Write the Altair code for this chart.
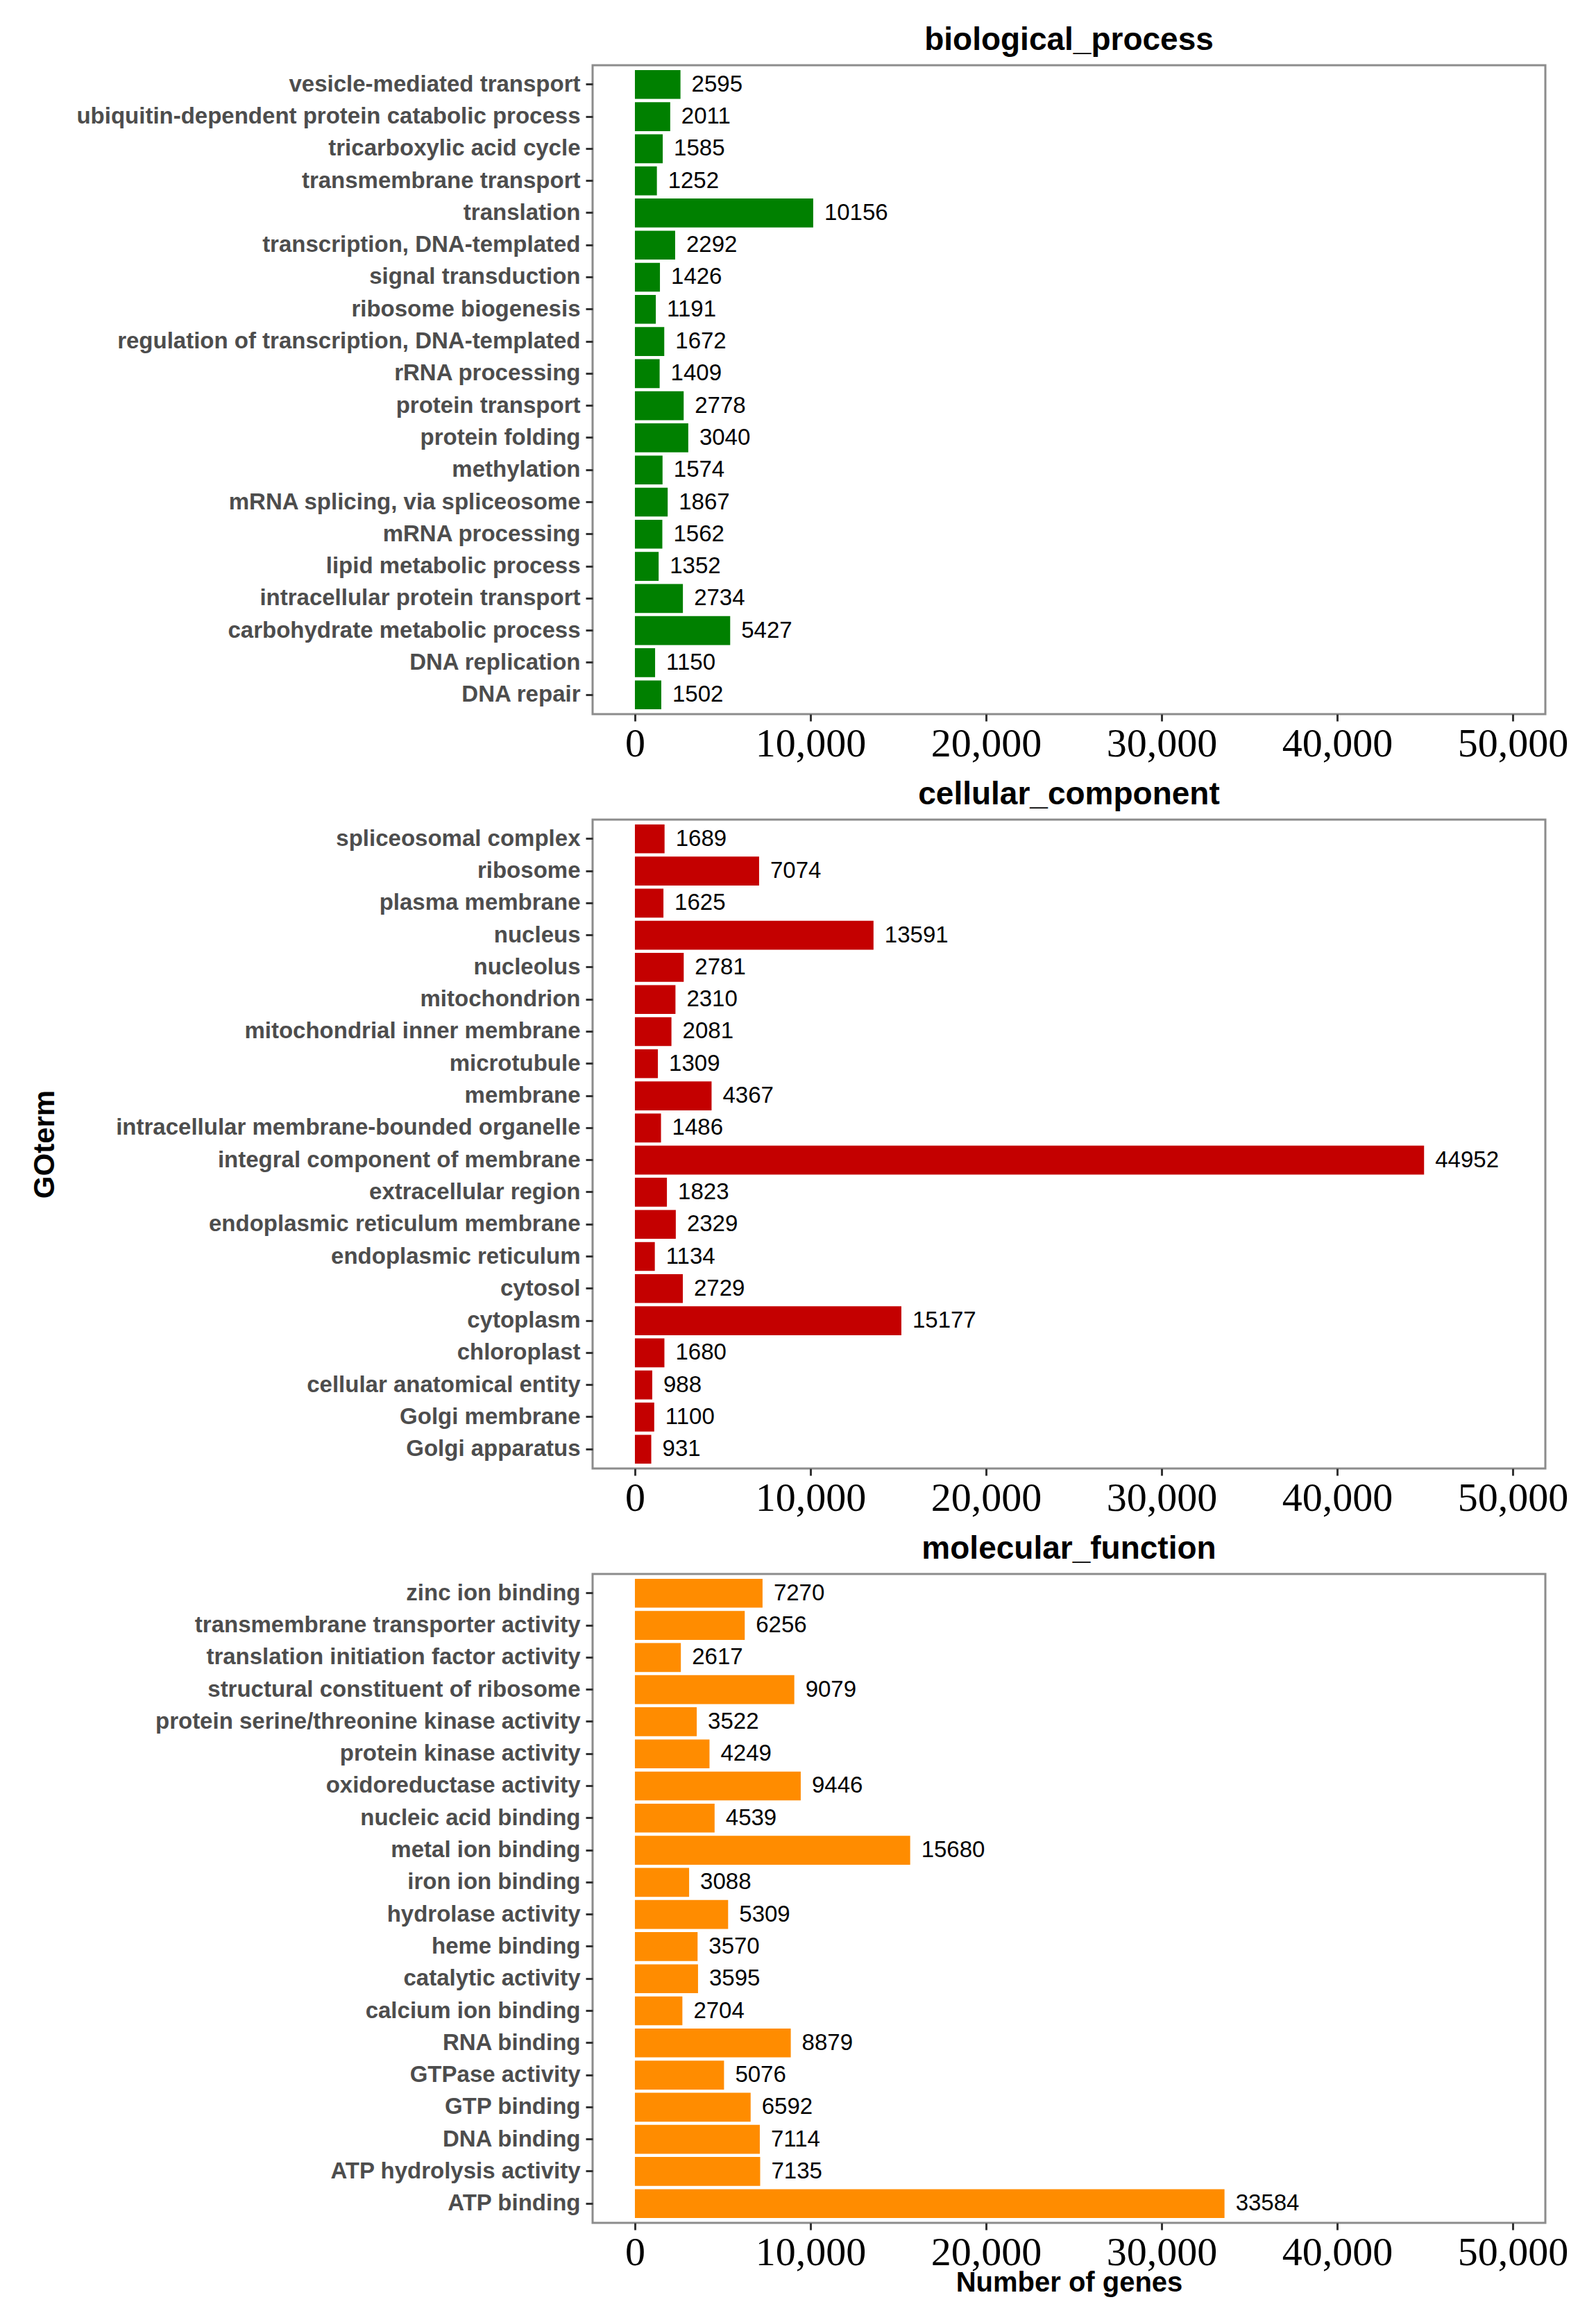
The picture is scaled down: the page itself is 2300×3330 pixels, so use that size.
import altair as alt
import pandas as pd

bp_terms = ["vesicle-mediated transport", "ubiquitin-dependent protein catabolic process",
            "tricarboxylic acid cycle", "transmembrane transport", "translation",
            "transcription, DNA-templated", "signal transduction", "ribosome biogenesis",
            "regulation of transcription, DNA-templated", "rRNA processing", "protein transport",
            "protein folding", "methylation", "mRNA splicing, via spliceosome", "mRNA processing",
            "lipid metabolic process", "intracellular protein transport",
            "carbohydrate metabolic process", "DNA replication", "DNA repair"]
bp_values = [2595, 2011, 1585, 1252, 10156, 2292, 1426, 1191, 1672, 1409, 2778, 3040, 1574,
             1867, 1562, 1352, 2734, 5427, 1150, 1502]

cc_terms = ["spliceosomal complex", "ribosome", "plasma membrane", "nucleus", "nucleolus",
            "mitochondrion", "mitochondrial inner membrane", "microtubule", "membrane",
            "intracellular membrane-bounded organelle", "integral component of membrane",
            "extracellular region", "endoplasmic reticulum membrane", "endoplasmic reticulum",
            "cytosol", "cytoplasm", "chloroplast", "cellular anatomical entity", "Golgi membrane",
            "Golgi apparatus"]
cc_values = [1689, 7074, 1625, 13591, 2781, 2310, 2081, 1309, 4367, 1486, 44952, 1823, 2329,
             1134, 2729, 15177, 1680, 988, 1100, 931]

mf_terms = ["zinc ion binding", "transmembrane transporter activity",
            "translation initiation factor activity", "structural constituent of ribosome",
            "protein serine/threonine kinase activity", "protein kinase activity",
            "oxidoreductase activity", "nucleic acid binding", "metal ion binding",
            "iron ion binding", "hydrolase activity", "heme binding", "catalytic activity",
            "calcium ion binding", "RNA binding", "GTPase activity", "GTP binding",
            "DNA binding", "ATP hydrolysis activity", "ATP binding"]
mf_values = [7270, 6256, 2617, 9079, 3522, 4249, 9446, 4539, 15680, 3088, 5309, 3570, 3595,
             2704, 8879, 5076, 6592, 7114, 7135, 33584]

x_ticks = [0, 10000, 20000, 30000, 40000, 50000]

SANS = "Liberation Sans, Arial, Helvetica, sans-serif"
SERIF = "Liberation Serif, Times New Roman, serif"
W, H = 1373, 935


def panel(title, terms, values, color, ytitle=None, xtitle=None):
    df = pd.DataFrame({"term": terms, "count": values})
    yaxis_kw = dict(labelFont=SANS, labelFontWeight="bold", labelFontSize=33,
                    labelColor="#4D4D4D", labelPadding=8, tickSize=10, tickWidth=3,
                    tickColor="#333333", domain=False, grid=False, labelLimit=1000)
    if ytitle:
        yaxis_kw.update(title=ytitle, titleFont=SANS, titleFontSize=42, titleFontWeight="bold",
                        titleColor="#000000", titleX=-790, titleY=H / 2, titleAngle=270,
                        titleAlign="center", titleBaseline="middle")
    else:
        yaxis_kw.update(title=None)
    yenc = alt.Y("term:N", sort=terms,
                 scale=alt.Scale(paddingInner=0.1, paddingOuter=0.15),
                 axis=alt.Axis(**yaxis_kw))
    xaxis_kw = dict(values=x_ticks, format=",.0f", labelFont=SERIF, labelFontSize=58,
                    labelColor="#000000", labelPadding=4, tickSize=10, tickWidth=3,
                    tickColor="#333333", domain=False, grid=False, labelFlush=False,
                    labelOverlap=False)
    if xtitle:
        xaxis_kw.update(title=xtitle, titleFont=SANS, titleFontSize=40, titleFontWeight="bold",
                        titleColor="#000000", titlePadding=-6)
    else:
        xaxis_kw.update(title=None)
    xenc = alt.X("count:Q",
                 scale=alt.Scale(domain=[-2410, 51860], nice=False, zero=False),
                 axis=alt.Axis(**xaxis_kw))
    base = alt.Chart(df)
    bars = base.mark_bar(color=color).encode(x=xenc, x2=alt.datum(0), y=yenc)
    text = base.mark_text(align="left", baseline="middle", dx=16, font=SANS, fontSize=33,
                          color="#000000").encode(x="count:Q", y=alt.Y("term:N", sort=terms),
                                                  text="count:Q")
    return (bars + text).properties(
        width=W, height=H,
        view=alt.ViewConfig(stroke="#8C8C8C", strokeWidth=3),
        title=alt.TitleParams(title, font=SANS, fontSize=46, fontWeight="bold",
                              color="#000000", anchor="middle", offset=12))


p1 = panel("biological_process", bp_terms, bp_values, "#008000")
p2 = panel("cellular_component", cc_terms, cc_values, "#C40000", ytitle="GOterm")
p3 = panel("molecular_function", mf_terms, mf_values, "#FF8C00", xtitle="Number of genes")

chart = alt.vconcat(p1, p2, p3, spacing=17).properties(
    padding={"left": 33, "top": 25, "right": 5, "bottom": 5}
).configure_view(
    stroke="#8C8C8C", strokeWidth=3
).configure(background="#FFFFFF")

chart.save("out.html", embed_options={"renderer": "svg", "actions": False})
